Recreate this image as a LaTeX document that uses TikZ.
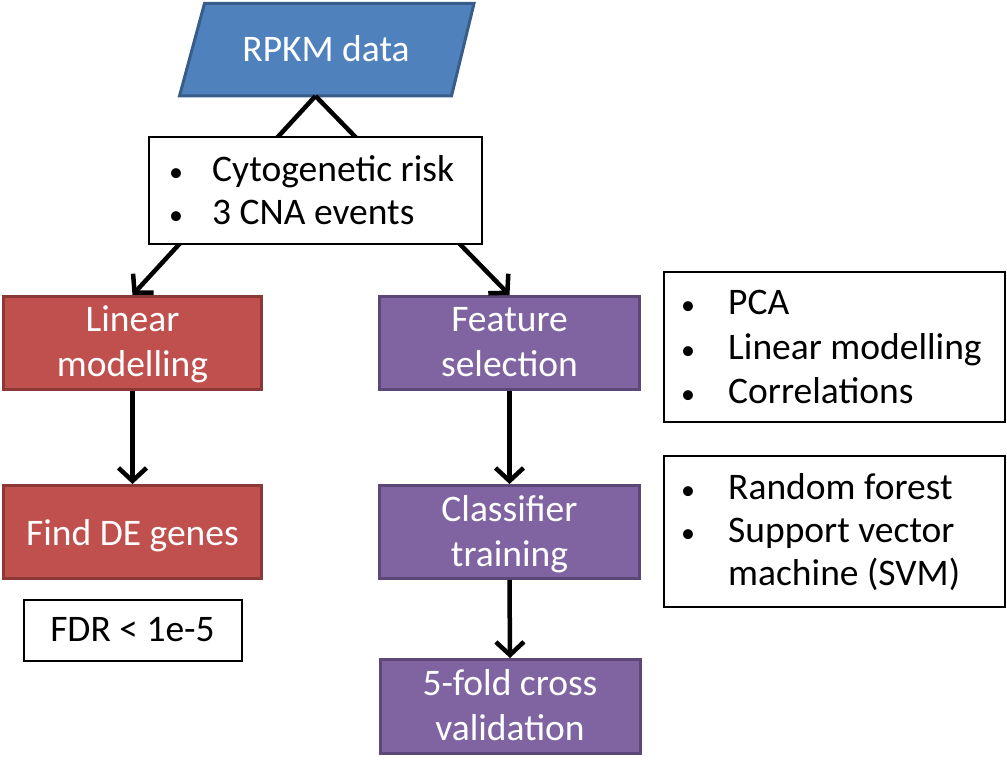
\documentclass[tikz,border=0pt]{standalone}
\usepackage{fontspec}
\setmainfont{Carlito}
\usetikzlibrary{arrows.meta}
\definecolor{bluefill}{HTML}{4F81BD}
\definecolor{blueline}{HTML}{385D8A}
\definecolor{redfill}{HTML}{C0504D}
\definecolor{redline}{HTML}{8C3836}
\definecolor{purplefill}{HTML}{8064A2}
\definecolor{purpleline}{HTML}{5C4776}
\newcommand{\smbullet}{{\fontsize{28}{28}\selectfont\textbullet}}
\begin{document}
\begin{tikzpicture}[x=1pt,y=-1pt,
  big/.style={font=\fontsize{37.5}{45}\selectfont},
  box/.style={line width=3pt, minimum width=258pt, minimum height=93pt, inner sep=0pt},
  redbox/.style={box, fill=redfill, draw=redline},
  purplebox/.style={box, fill=purplefill, draw=purpleline},
  boxtext/.style={big, text=white, anchor=base, inner sep=0pt},
  note/.style={draw=black, line width=2pt, fill=white, inner sep=0pt},
  tx/.style={big, anchor=base west, inner sep=0pt},
  bul/.style={anchor=base west, inner sep=0pt},
  flow/.style={line width=4.5pt, -{Straight Barb[length=13pt,width=28pt,line width=4.5pt]}}
]
\useasboundingbox (0,0) rectangle (1007,775);

% RPKM parallelogram
\fill[bluefill, draw=blueline, line width=3pt]
  (204.5,3.5) -- (474,3.5) -- (451.5,96) -- (179.5,96) -- cycle;
\node[boxtext] (rpkm) at (326,62) {RPKM data};
\coordinate (rpkmb) at (315.5,96);

% coloured boxes
\node[redbox] (lin) at (132.5,343) {};
\node[boxtext] (lint1) at (132.5,332) {Linear};
\node[boxtext] (lint2) at (132.5,377) {modelling};
\node[redbox] (de) at (132.5,532) {};
\node[boxtext] (det) at (132.5,545) {Find DE genes};
\node[purplebox, minimum width=260pt] (feat) at (509.5,343) {};
\node[boxtext] (featt1) at (509.5,332) {Feature};
\node[boxtext] (featt2) at (509.5,377) {selection};
\node[purplebox, minimum width=260pt] (clf) at (509.5,532) {};
\node[boxtext] (clft1) at (509.5,521) {Classifier};
\node[boxtext] (clft2) at (509.5,566) {training};
\node[purplebox, minimum width=260pt, minimum height=94pt] (cv) at (510,706.5) {};
\node[boxtext] (cvt1) at (510,695) {5-fold cross};
\node[boxtext] (cvt2) at (510,740) {validation};

% connectors
\draw[flow] (rpkmb) -- (lin.north);
\draw[flow] (rpkmb) -- (feat.north);
\draw[flow] (lin.south) -- (de.north);
\draw[flow] (feat.south) -- (clf.north);
\draw[flow] (clf.south) -- (cv.north);

% note boxes
\node[note, minimum width=333pt, minimum height=107pt] (risk) at (315,191) {};
\node[bul] (r1b) at (169,182) {\smbullet};
\node[tx] (r1t) at (212,182) {Cytogenetic risk};
\node[bul] (r2b) at (169,225) {\smbullet};
\node[tx] (r2t) at (212,225) {3 CNA events};

\node[note, big, minimum width=218pt, minimum height=61pt] (fdr) at (132.5,630) {FDR < 1e-5};

\node[note, minimum width=341pt, minimum height=150pt] (fsel) at (834,347.5) {};
\node[bul] (f1b) at (681,315) {\smbullet};
\node[tx] (f1t) at (728,315) {PCA};
\node[bul] (f2b) at (681,360) {\smbullet};
\node[tx] (f2t) at (728,360) {Linear modelling};
\node[bul] (f3b) at (681,404) {\smbullet};
\node[tx] (f3t) at (728,404) {Correlations};

\node[note, minimum width=341pt, minimum height=150pt] (clsf) at (834,531.5) {};
\node[bul] (c1b) at (681,500) {\smbullet};
\node[tx] (c1t) at (728,500) {Random forest};
\node[bul] (c2b) at (681,542) {\smbullet};
\node[tx] (c2t) at (728,542) {Support vector};
\node[tx] (c3t) at (728,585) {machine (SVM)};
\end{tikzpicture}
\end{document}
